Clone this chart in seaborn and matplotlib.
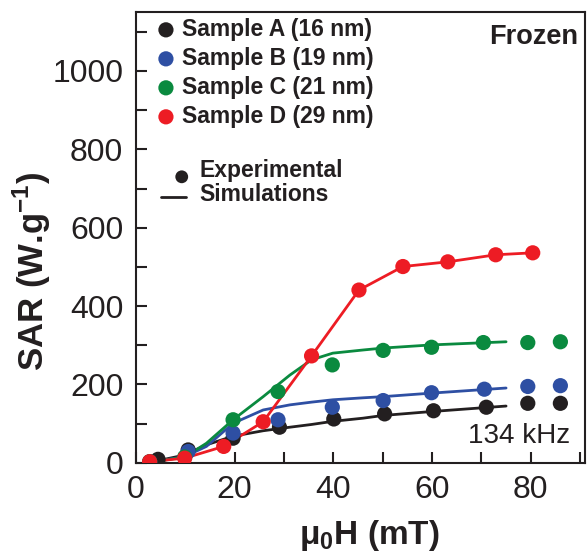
import numpy as np
import pandas as pd
import matplotlib
matplotlib.use("Agg")
import matplotlib.pyplot as plt
import seaborn as sns
from matplotlib.ticker import MultipleLocator

sns.set_theme(style="ticks")
plt.rcParams['font.family'] = ['Liberation Sans', 'DejaVu Sans']
plt.rcParams['mathtext.fontset'] = 'custom'
plt.rcParams['mathtext.rm'] = 'Liberation Sans'
plt.rcParams['mathtext.bf'] = 'Liberation Sans:bold'

# Experimental points (field in mT, SAR in W/g)
field_a = [4.5, 10.6, 19.7, 29.1, 40.1, 50.4, 60.3, 71.0, 79.4, 86.0]
sar_a = [9, 33, 63, 91, 112, 125, 133, 142, 152, 152]
field_b = [2.8, 10.6, 19.7, 28.8, 39.8, 50.1, 59.9, 70.6, 79.4, 86.0]
sar_b = [3, 29, 76, 110, 142, 159, 179, 188, 195, 197]
field_c = [2.8, 9.9, 19.7, 28.8, 39.8, 50.1, 59.9, 70.4, 79.4, 86.0]
sar_c = [3, 15, 110, 182, 250, 287, 295, 307, 307, 309]
field_d = [2.8, 9.9, 17.8, 25.8, 35.6, 45.2, 54.1, 63.2, 72.9, 80.4]
sar_d = [3, 12, 42, 105, 273, 441, 501, 513, 531, 536]

# Simulation curves
sim_field = [2.8, 9.9, 14.3, 19.7, 25.8, 31.2, 35.6, 39.9, 46.0, 50.1, 59.9, 75.0]
sim_a = [1, 20, 46, 68, 82, 91, 98, 106, 114, 121, 131, 145]
sim_b = [1, 16, 42, 101, 135, 148, 155, 161, 166, 169, 178, 191]
sim_c = [1, 15, 50, 110, 169, 224, 263, 280, 288, 293, 301, 309]

samples = ["Sample A (16 nm)", "Sample B (19 nm)", "Sample C (21 nm)", "Sample D (29 nm)"]
colors = ["#231f20", "#2e4fa3", "#0a8a3f", "#ed1c24"]

exp = pd.concat([
    pd.DataFrame({"field": f, "sar": s, "sample": n})
    for f, s, n in zip([field_a, field_b, field_c, field_d],
                       [sar_a, sar_b, sar_c, sar_d], samples)
])
sim = pd.concat([
    pd.DataFrame({"field": sim_field, "sar": s, "sample": n})
    for s, n in zip([sim_a, sim_b, sim_c], samples[:3])
] + [pd.DataFrame({"field": field_d, "sar": sar_d, "sample": samples[3]})])

pal = dict(zip(samples, colors))
ink = "#231f20"

fig = plt.figure(figsize=(5.88, 5.55), dpi=100)
ax = fig.add_axes([0.231, 0.166, 0.764, 0.812])

sns.lineplot(data=sim, x="field", y="sar", hue="sample", palette=pal,
             lw=2, legend=False, ax=ax, sort=True)
sns.scatterplot(data=exp, x="field", y="sar", hue="sample", palette=pal,
                s=120, edgecolor="none", legend=False, ax=ax, zorder=3)

ax.set_xlim(0, 91)
ax.set_ylim(0, 1150)
ax.xaxis.set_major_locator(MultipleLocator(20))
ax.xaxis.set_minor_locator(MultipleLocator(10))
ax.yaxis.set_major_locator(MultipleLocator(200))
ax.yaxis.set_minor_locator(MultipleLocator(100))
ax.tick_params(which="both", direction="in", width=1.5, labelsize=23, color=ink,
               labelcolor=ink)
ax.tick_params(which="major", length=8, pad=9)
ax.tick_params(which="minor", length=8)
for sp in ax.spines.values():
    sp.set_linewidth(1.5)
    sp.set_color(ink)

ax.set_xlabel(r"μ$_\mathbf{0}$H (mT)", fontsize=24, fontweight="bold", color=ink)
ax.set_ylabel(r"SAR (W.g$^\mathbf{-1}$)", fontsize=25, fontweight="bold", color=ink)
ax.xaxis.set_label_coords(0.52, -0.122)
ax.yaxis.set_label_coords(-0.185, 0.426)

# legend drawn by hand as in the original
for i, (n, c) in enumerate(zip(samples, colors)):
    y = 1105 - i * 74
    ax.scatter([6.1], [y], s=120, color=c, edgecolor="none", clip_on=False)
    ax.text(9.3, y, n, fontsize=16.5, fontweight="bold", va="center", color=ink)
ax.scatter([9.3], [730], s=85, color=ink, edgecolor="none")
ax.plot([5.1, 10.1], [679, 679], color=ink, lw=2)
ax.text(12.8, 745, "Experimental", fontsize=16.5, fontweight="bold", va="center", color=ink)
ax.text(12.8, 684, "Simulations", fontsize=16.5, fontweight="bold", va="center", color=ink)
ax.text(89.5, 1087, "Frozen", fontsize=19.5, fontweight="bold", ha="right", va="center", color=ink)
ax.text(87.9, 69, "134 kHz", fontsize=20, ha="right", va="center", color=ink)

fig.savefig("out.png", dpi=100)
